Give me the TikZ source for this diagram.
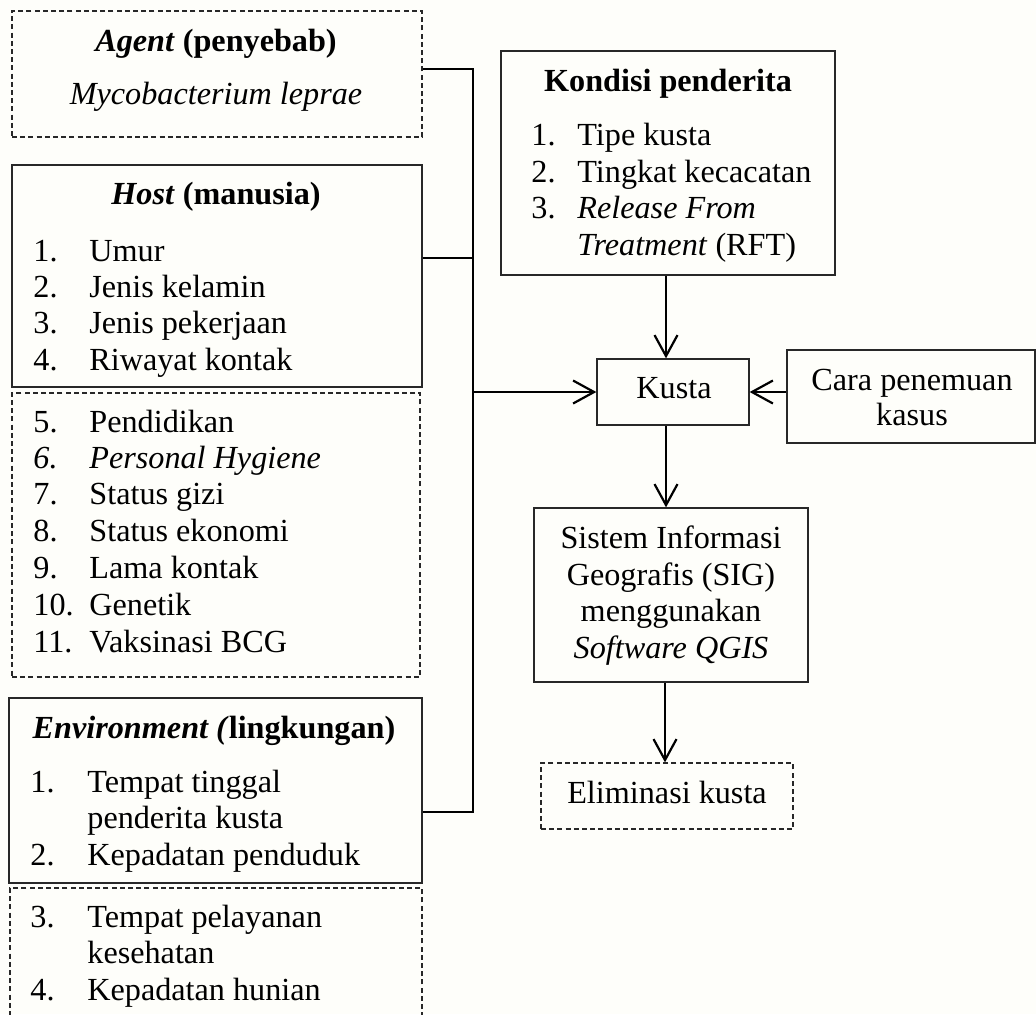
\documentclass[tikz,border=0pt]{standalone}
\usepackage{fontspec}
\setmainfont{Liberation Serif}
\usetikzlibrary{arrows.meta}
\definecolor{bgc}{RGB}{254,254,250}
\definecolor{edge}{RGB}{40,40,40}
\begin{document}
\begin{tikzpicture}[x=0.5pt,y=-0.5pt,
  solidbox/.style={draw=edge, line width=0.65pt, inner sep=0pt},
  dashbox/.style={draw=edge, line width=0.65pt, inner sep=0pt, dash pattern=on 2.5pt off 1.6pt},
  txt/.style={inner sep=0pt, anchor=base west, font=\fontsize{16.1}{18.3}\selectfont},
  ctxt/.style={inner sep=0pt, anchor=base, font=\fontsize{16.1}{18.3}\selectfont},
  conn/.style={line width=1.1pt, draw=black},
  arr/.style={conn, -{Straight Barb[length=10.5pt,width=11.5pt,line width=1.1pt]}}
]
\useasboundingbox (0,0) rectangle (1036,1014);
\clip (0,0) rectangle (1036,1014);
\fill[bgc] (0,0) rectangle (1036,1014);

% left boxes
\node[dashbox, minimum width=205pt, minimum height=63pt] (agent) at (217,74) {};
\node[solidbox, minimum width=205pt, minimum height=111pt] (host) at (217,276) {};
\node[dashbox, minimum width=204pt, minimum height=142pt] (hostx) at (216,535) {};
\node[solidbox, minimum width=206.5pt, minimum height=92.5pt] (env) at (215.5,790.5) {};
\node[dashbox, minimum width=206pt, minimum height=80pt] (envx) at (216,968) {};

% agent texts
\node[ctxt] (tA1) at (216,51) {\textbf{\textit{Agent} (penyebab)}};
\node[ctxt] (tA2) at (216,104) {\textit{Mycobacterium leprae}};

% host texts
\node[ctxt] (tH0) at (216,204) {\textbf{\textit{Host} (manusia)}};
\node[txt] (nH1) at (33,261) {1.};  \node[txt] (tH1) at (89,261) {Umur};
\node[txt] (nH2) at (33,297) {2.};  \node[txt] (tH2) at (89,297) {Jenis kelamin};
\node[txt] (nH3) at (33,333) {3.};  \node[txt] (tH3) at (89,333) {Jenis pekerjaan};
\node[txt] (nH4) at (33,370) {4.};  \node[txt] (tH4) at (89,370) {Riwayat kontak};
\node[txt] (nH5) at (33,432) {5.};  \node[txt] (tH5) at (89,432) {Pendidikan};
\node[txt] (nH6) at (33,468) {\textit{6.}};  \node[txt] (tH6) at (89,468) {\textit{Personal Hygiene}};
\node[txt] (nH7) at (33,504) {7.};  \node[txt] (tH7) at (89,504) {Status gizi};
\node[txt] (nH8) at (33,541) {8.};  \node[txt] (tH8) at (89,541) {Status ekonomi};
\node[txt] (nH9) at (33,578) {9.};  \node[txt] (tH9) at (89,578) {Lama kontak};
\node[txt] (nH10) at (33,615) {10.}; \node[txt] (tH10) at (89,615) {Genetik};
\node[txt] (nH11) at (33,652) {11.}; \node[txt] (tH11) at (89,652) {Vaksinasi BCG};

% environment texts
\node[ctxt] (tE0) at (214,738) {\textbf{\textit{Environment (}lingkungan)}};
\node[txt] (nE1) at (30,792) {1.};  \node[txt] (tE1) at (87,792) {Tempat tinggal};
\node[txt] (tE1b) at (87,828) {penderita kusta};
\node[txt] (nE2) at (30,865) {2.};  \node[txt] (tE2) at (87,865) {Kepadatan penduduk};
\node[txt] (nE3) at (30,927) {3.};  \node[txt] (tE3) at (87,927) {Tempat pelayanan};
\node[txt] (tE3b) at (87,963) {kesehatan};
\node[txt] (nE4) at (30,1000) {4.}; \node[txt] (tE4) at (87,1000) {Kepadatan hunian};

% right side boxes
\node[solidbox, minimum width=167pt, minimum height=112pt] (kond) at (668,163) {};
\node[ctxt] (tK0) at (668,91) {\textbf{Kondisi penderita}};
\node[txt] (nK1) at (531,145) {1.}; \node[txt] (tK1) at (577,145) {Tipe kusta};
\node[txt] (nK2) at (531,182) {2.}; \node[txt] (tK2) at (577,182) {Tingkat kecacatan};
\node[txt] (nK3) at (531,218) {3.}; \node[txt] (tK3) at (577,218) {\textit{Release From}};
\node[txt] (tK3b) at (577,255) {\textit{Treatment} (RFT)};

\node[solidbox, minimum width=76pt, minimum height=33pt] (kusta) at (673,392) {};
\node[ctxt] (tKu) at (674,398) {Kusta};

\node[solidbox, minimum width=124pt, minimum height=46.5pt] (cara) at (911,396.5) {};
\node[ctxt] (tC1) at (912,390) {Cara penemuan};
\node[ctxt] (tC2) at (912,425) {kasus};

\node[solidbox, minimum width=137pt, minimum height=87pt] (sig) at (671,595) {};
\node[ctxt] (tS1) at (671,548) {Sistem Informasi};
\node[ctxt] (tS2) at (671,585) {Geografis (SIG)};
\node[ctxt] (tS3) at (671,621) {menggunakan};
\node[ctxt] (tS4) at (671,658) {\textit{Software QGIS}};

\node[dashbox, minimum width=126pt, minimum height=33pt] (elim) at (667,796) {};
\node[ctxt] (tEl) at (667,803) {Eliminasi kusta};

% bus connectors
\coordinate (b1) at (473,69);
\coordinate (b2) at (473,258);
\coordinate (b3) at (473,392);
\coordinate (b4) at (473,812);
\draw[conn] (agent.east |- b1) -- (b1) -- (b4) -- (env.east |- b4);
\draw[conn] (host.east |- b2) -- (b2);
\draw[arr] (b3) -- (kusta.west);

% right connectors
\draw[arr] ([xshift=-1pt]kond.south) -- ([xshift=-1pt]kond.south |- kusta.north);
\draw[arr] (kusta.east -| cara.west) -- (kusta.east);
\draw[arr] ([xshift=-3.5pt]kusta.south) -- ([xshift=-3.5pt]kusta.south |- sig.north);
\draw[arr] ([xshift=-3pt]sig.south) -- ([xshift=-3pt]sig.south |- elim.north);
\end{tikzpicture}
\end{document}
